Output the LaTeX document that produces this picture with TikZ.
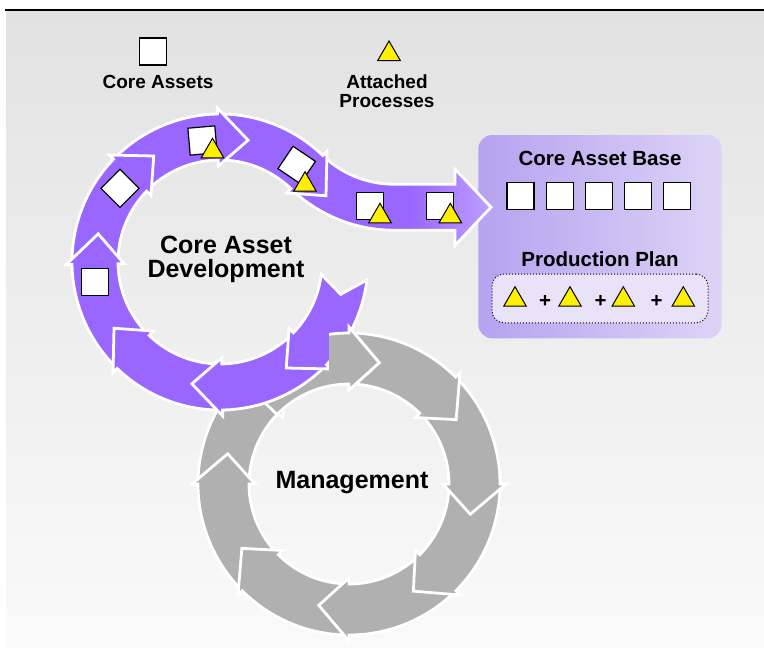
\documentclass[tikz,border=0pt]{standalone}
\usepackage{fontspec}
\setmainfont{Liberation Sans}
\usepackage{tikz}
\usetikzlibrary{shapes.geometric,calc,positioning}
\definecolor{cadpurple}{RGB}{153,102,255}
\definecolor{fadepurple}{RGB}{236,230,255}
\definecolor{mgmtgray}{RGB}{176,176,176}
\definecolor{bggray}{RGB}{226,226,226}
\definecolor{baseleft}{RGB}{182,162,240}
\definecolor{baseright}{RGB}{220,212,246}
\definecolor{planfill}{RGB}{233,227,250}
\definecolor{procyellow}{RGB}{255,240,0}
\pgfdeclarehorizontalshading{bendfade}{100bp}{color(0bp)=(cadpurple); color(55bp)=(cadpurple); color(100bp)=(fadepurple)}

% ring geometry (radii in px)
\newcommand{\ringin}{102}
\newcommand{\ringout}{148}
\newcommand{\ringmid}{125}
\newcommand{\ringfin}{96}
\newcommand{\ringfout}{154}
% one curved arrow piece: centre, tail angle, head angle, notch, style
\newcommand{\ringarrow}[5]{%
  \filldraw[#5, shift={(#1)}] (#2:\ringin) arc[start angle=#2, end angle=#3, radius=\ringin]
    -- (#3:\ringfin) -- (#3+14:\ringmid) -- (#3:\ringfout) -- (#3:\ringout)
    arc[start angle=#3, end angle=#2, radius=\ringout] -- (#2+#4:\ringmid) -- cycle;}

\begin{document}
\begin{tikzpicture}[x=1pt, y=-1pt]
	\tikzset{purpseg/.style={fill=cadpurple, draw=white, line width=2.8pt}}
	\tikzset{grayseg/.style={fill=mgmtgray, draw=white, line width=2.8pt}}
	\tikzset{bendseg/.style={shading=bendfade, draw=white, line width=2.8pt}}
	\tikzset{asset/.style={draw=black, fill=white, line width=1.2pt, minimum size=27pt, inner sep=0pt}}
	\tikzset{proc/.style={regular polygon, regular polygon sides=3, draw=black, fill=procyellow, line width=1pt, minimum size=26pt, inner sep=0pt}}
	\tikzset{lbl/.style={font=\bfseries\fontsize{19}{19}\selectfont, align=center, inner sep=0pt}}
	\tikzset{boxlbl/.style={font=\bfseries\fontsize{20.5}{20.5}\selectfont, inner sep=0pt}}
	\tikzset{ringlbl/.style={font=\bfseries\fontsize{25}{24}\selectfont, align=center, inner sep=0pt}}

	\useasboundingbox (0,0) rectangle (764,648);
	\fill[white] (0,0) rectangle (764,648);
	\shade[top color=bggray, bottom color=white!98!black] (6,10.5) rectangle (764,648);
	\draw[line width=2pt] (5,9.5) -- (764,9.5);

	\coordinate (cadcenter) at (220,262);
	\coordinate (mgmtcenter) at (349,484);
	\coordinate (bendcenter) at (393.7,82.2);

	% core asset base
	\node[rounded corners=14pt, left color=baseleft, right color=baseright, minimum width=243.4pt, minimum height=203.3pt] (basebox) at (600,236.7) {};
	\node[draw=black, dotted, line width=1pt, rounded corners=12pt, fill=planfill, minimum width=216pt, minimum height=48.7pt] (planbox) at (600,298.4) {};

	% management ring
	\renewcommand{\ringin}{100}
	\renewcommand{\ringout}{151}
	\renewcommand{\ringfin}{94}
	\renewcommand{\ringfout}{157}
	\ringarrow{mgmtcenter}{179}{225}{0}{grayseg}
	\ringarrow{mgmtcenter}{134}{180}{0}{grayseg}
	\ringarrow{mgmtcenter}{89}{135}{0}{grayseg}
	\ringarrow{mgmtcenter}{44}{90}{0}{grayseg}
	\ringarrow{mgmtcenter}{-1}{45}{0}{grayseg}
	\ringarrow{mgmtcenter}{314}{360}{0}{grayseg}
	\ringarrow{mgmtcenter}{269}{315}{0}{grayseg}
	\ringarrow{mgmtcenter}{224}{270}{0}{grayseg}

	% core asset development ring
	\renewcommand{\ringin}{102}
	\renewcommand{\ringout}{148}
	\renewcommand{\ringfin}{96}
	\renewcommand{\ringfout}{154}
	\path[bendseg] ($(bendcenter)+(136:\ringin)$) arc[start angle=136, end angle=90, radius=\ringin]
		-- (455,184.2) -- (455,169) -- (491,207.2) -- (455,245.4) -- (455,230.2)
		-- ($(bendcenter)+(90:\ringout)$) arc[start angle=90, end angle=136, radius=\ringout] -- cycle;
	\ringarrow{cadcenter}{268}{314}{0}{purpseg}
	\ringarrow{cadcenter}{223}{269}{0}{purpseg}
	\ringarrow{cadcenter}{178}{224}{0}{purpseg}
	\ringarrow{cadcenter}{133}{179}{0}{purpseg}
	\ringarrow{cadcenter}{88}{134}{0}{purpseg}
	\ringarrow{cadcenter}{43}{89}{0}{purpseg}
	\ringarrow{cadcenter}{7}{44}{8}{purpseg}

	% management piece lying over the purple ring
	\renewcommand{\ringin}{100}
	\renewcommand{\ringout}{151}
	\renewcommand{\ringfin}{94}
	\renewcommand{\ringfout}{157}
	\begin{scope}
		\clip (329,318) rectangle (430,400);
		\ringarrow{mgmtcenter}{224}{270}{0}{grayseg}
	\end{scope}

	% legend
	\node[asset] (legasset) at (152.8,51.5) {};
	\node[lbl] (legassettxt) at (158,81.7) {Core Assets};
	\node[proc] (legproc) at (389,54) {};
	\node[lbl] (legproctxt) at (387,91) {Attached\\Processes};

	% items travelling on the ring
	\node[asset] (sq1) at (95,281.7) {};
	\node[asset, rotate=45] (sq2) at (120,188.3) {};
	\node[asset, rotate=5] (sq3) at (202.5,140.5) {};
	\node[proc] (tri3) at (212.5,151.3) {};
	\node[asset, rotate=-34] (sq4) at (296.7,165) {};
	\node[proc] (tri4) at (305,184.7) {};
	\node[asset] (sq5) at (370,206) {};
	\node[proc] (tri5) at (380,216.3) {};
	\node[asset] (sq6) at (440,206) {};
	\node[proc] (tri6) at (450.3,216.3) {};

	% base contents
	\node[boxlbl] (basetxt) at (600,158.3) {Core Asset Base};
	\node[asset] (base1) at (520.5,196) {};
	\node[asset, right=11pt of base1] (base2) {};
	\node[asset, right=11pt of base2] (base3) {};
	\node[asset, right=11pt of base3] (base4) {};
	\node[asset, right=11pt of base4] (base5) {};
	\node[boxlbl] (plantxt) at (600,259) {Production Plan};
	\node[proc] (plan1) at (515,299.7) {};
	\node[boxlbl] (plus1) at (545,301.7) {+};
	\node[proc] (plan2) at (570,299.7) {};
	\node[boxlbl] (plus2) at (600.5,301.7) {+};
	\node[proc] (plan3) at (623.3,299.7) {};
	\node[boxlbl] (plus3) at (656.7,301.7) {+};
	\node[proc] (plan4) at (683.3,299.7) {};

	% ring titles
	\node[ringlbl] (cadtxt) at (226,259) {Core Asset\\Development};
	\node[ringlbl] (mgmttxt) at (352,483) {Management};
\end{tikzpicture}
\end{document}
